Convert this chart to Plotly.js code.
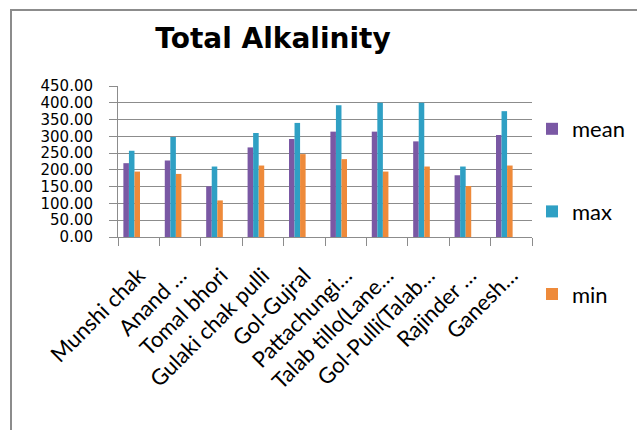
<!DOCTYPE html>
<html>
<head>
<meta charset="utf-8">
<script src="https://cdn.plot.ly/plotly-3.0.1.min.js"></script>
<style>
  html, body { margin: 0; padding: 0; background: #ffffff; }
  #wrap { position: relative; width: 637px; height: 430px; overflow: hidden; }
  #chart { width: 637px; height: 430px; }
  /* chart frame: only its top and left edges fall inside the page */
  #frame {
    position: absolute; left: 10px; top: 9px; width: 700px; height: 500px;
    border-left: 2px solid #8c8c8c; border-top: 2px solid #8c8c8c;
    pointer-events: none;
  }
</style>
</head>
<body>
<div id="wrap">
  <div id="chart"></div>
  <div id="frame"></div>
</div>
<script>
// Sampling sites
const sites = [
  "Munshi chak", "Anand …", "Tomal bhori", "Gulaki chak pulli", "Gol-Gujral",
  "Pattachungi…", "Talab tillo(Lane…", "Gol-Pulli(Talab…", "Rajinder …", "Ganesh…"
];

// Total alkalinity statistics per site
const meanVals = [220, 228, 151, 267, 292, 314, 314, 285, 184, 304];
const maxVals  = [257, 298, 210, 310, 340, 393, 400, 400, 210, 375];
const minVals  = [195, 188, 109, 213, 247, 232, 195, 210, 152, 213];

// Y axis ticks
const yTicks = [0, 50, 100, 150, 200, 250, 300, 350, 400, 450];

const barW = 0.134;
function barTrace(name, vals, color, offset) {
  return {
    type: "bar",
    name: name,
    x: sites,
    y: vals,
    width: barW,
    offset: offset,
    marker: { color: color, line: { width: 0 } },
    legendgroup: name,
    hoverinfo: "x+y"
  };
}

const data = [
  barTrace("mean", meanVals, "#7a58a4", -0.37),
  barTrace("max",  maxVals,  "#2fa0c4", -0.236),
  barTrace("min",  minVals,  "#ee8a3a", -0.102)
];

const layout = {
  width: 637,
  height: 430,
  paper_bgcolor: "#ffffff",
  plot_bgcolor: "#ffffff",
  margin: { l: 118, r: 72, t: 86, b: 193.3, pad: 0 },
  barmode: "overlay",
  title: {
    text: "<b>Total Alkalinity</b>",
    font: { family: "DejaVu Sans", size: 28, color: "#000000" },
    xref: "container", x: 273 / 637, xanchor: "center",
    yref: "container", y: 1 - 38 / 430, yanchor: "middle"
  },
  xaxis: {
    type: "category",
    tickangle: -45,
    tickson: "boundaries",
    ticks: "outside",
    ticklen: 8,
    tickcolor: "#8c8c8c",
    showline: true,
    linecolor: "#8c8c8c",
    linewidth: 1,
    showgrid: false,
    ticklabelstandoff: 16,
    tickfont: { family: "Lato", size: 22, color: "#000000" }
  },
  yaxis: {
    range: [0, 450],
    tickvals: yTicks,
    tickformat: ".2f",
    ticks: "outside",
    ticklen: 8,
    tickcolor: "#8c8c8c",
    showline: true,
    linecolor: "#8c8c8c",
    linewidth: 1,
    showgrid: true,
    gridcolor: "#8c8c8c",
    gridwidth: 1,
    zeroline: false,
    ticklabelstandoff: 13,
    tickfont: { family: "DejaVu Sans", size: 15, color: "#000000" }
  },
  showlegend: true,
  legend: {
    xref: "container", x: 532 / 637, xanchor: "left",
    yref: "container", y: 1 - 108 / 430, yanchor: "top",
    tracegroupgap: 51,
    bgcolor: "rgba(0,0,0,0)",
    font: { family: "Lato", size: 22, color: "#000000" },
    itemwidth: 30
  }
};

Plotly.newPlot("chart", data, layout, { displayModeBar: false, staticPlot: true });
</script>
</body>
</html>
